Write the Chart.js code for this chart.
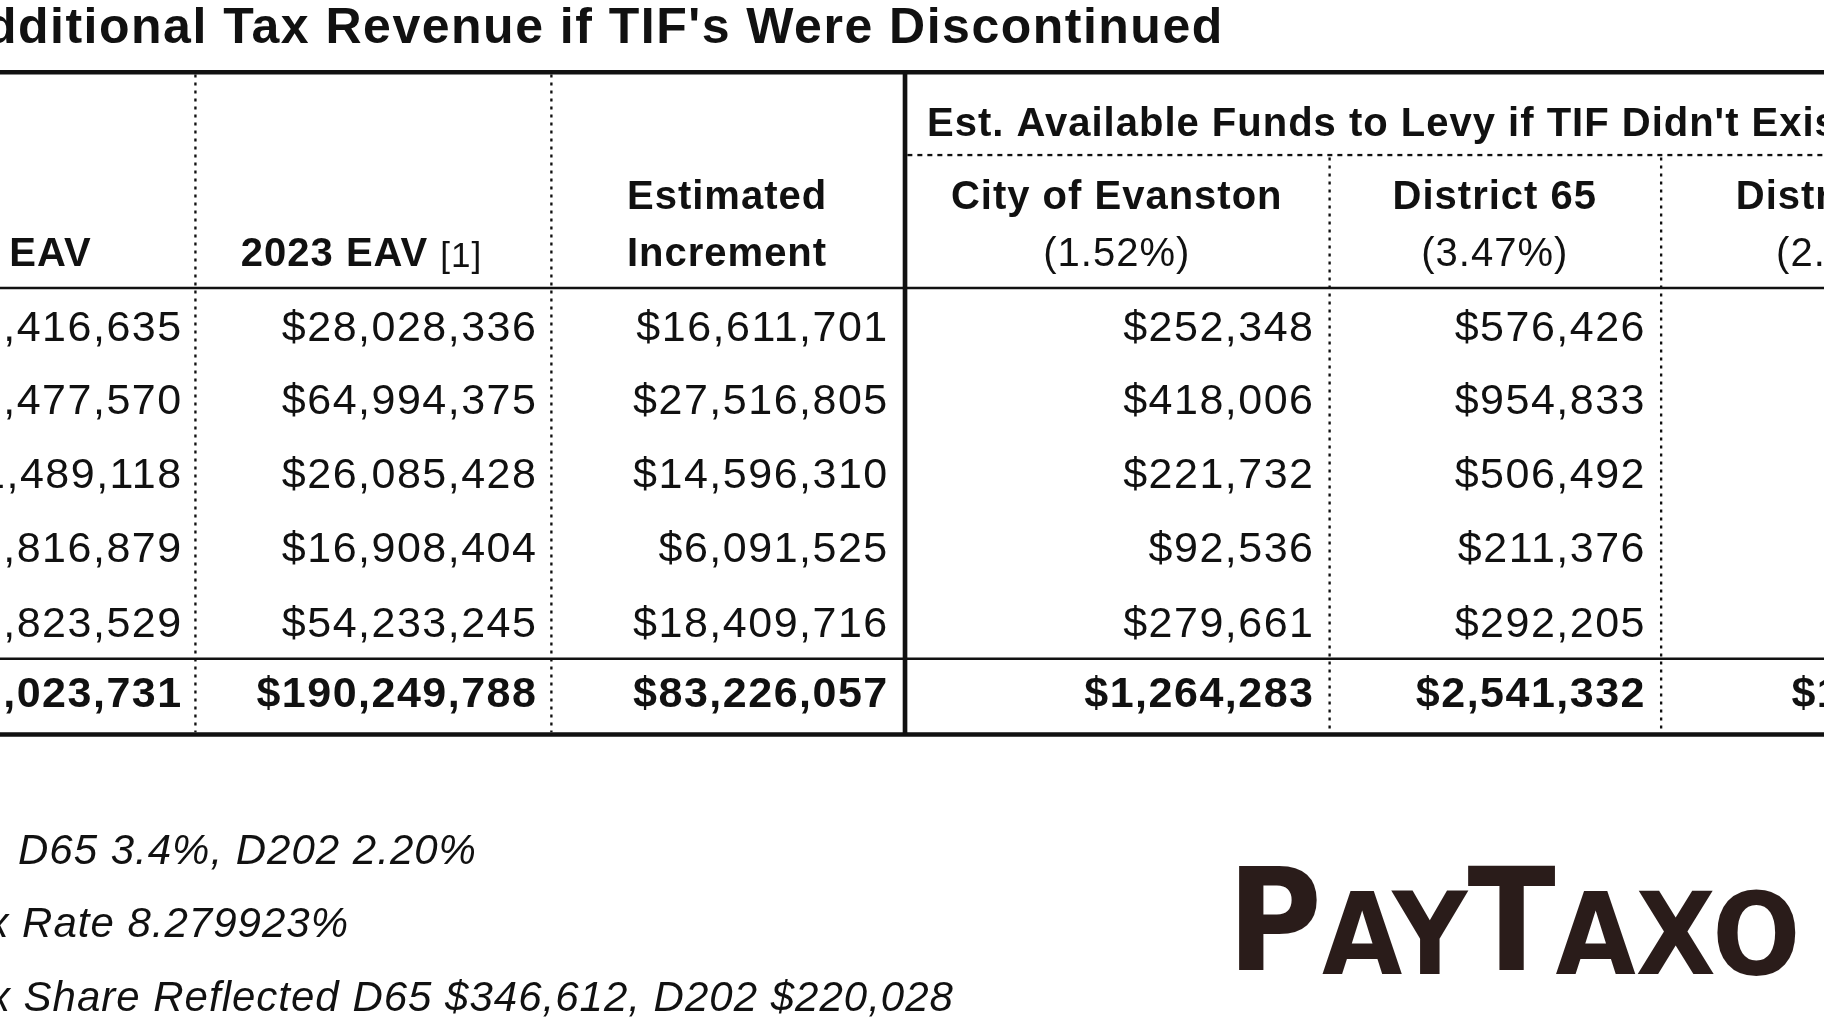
<!DOCTYPE html>
<html><head><meta charset="utf-8">
<script src="https://cdn.jsdelivr.net/npm/chart.js@4/dist/chart.umd.min.js"></script>
<style>html,body{margin:0;padding:0;background:#fff;overflow:hidden}</style>
</head><body>
<canvas id="c" width="1824" height="1026"></canvas>
<script>
const title = "Additional Tax Revenue if TIF's Were Discontinued";
const groupHeader = "Est. Available Funds to Levy if TIF Didn't Exist";
const baseEAV = ["$11,416,635","$37,477,570","$11,489,118","$10,816,879","$35,823,529"];
const eav2023 = ["$28,028,336","$64,994,375","$26,085,428","$16,908,404","$54,233,245"];
const increment = ["$16,611,701","$27,516,805","$14,596,310","$6,091,525","$18,409,716"];
const evanston = ["$252,348","$418,006","$221,732","$92,536","$279,661"];
const district65 = ["$576,426","$954,833","$506,492","$211,376","$292,205"];
const totals = ["$107,023,731","$190,249,788","$83,226,057","$1,264,283","$2,541,332","$1"];
const notes = ["City 1.52%, D65 3.4%, D202 2.20%","Total Tax Rate 8.279923%","Property Tax Share Reflected D65 $346,612, D202 $220,028"];

const rowY = [282,345,408,472,536];
const totalY = 596;
const colRight = [157,462,764,1130,1415,1700];

const plugin = {id:'table', afterDraw(ch){
  const c = ch.ctx, xs = ch.scales.x, ys = ch.scales.y;
  const X = v=>xs.getPixelForValue(v), Y = v=>ys.getPixelForValue(v);
  const k = 1824/1568;
  const F = (s,w,st)=>`${st||''} ${w||''} ${Math.round(s*k)}px "Liberation Sans", Arial, sans-serif`;
  c.save(); c.fillStyle='#111'; c.strokeStyle='#111'; c.textBaseline='middle';
  c.letterSpacing = '1.5px';
  c.font=F(43,'bold'); c.textAlign='right'; c.fillText(title, X(1052), Y(25));
  const hline=(y,x0,x1,w,dash)=>{c.beginPath();c.lineWidth=w*k;c.setLineDash(dash||[]);c.moveTo(X(x0),Y(y));c.lineTo(X(x1),Y(y));c.stroke();};
  const vline=(x,y0,y1,w,dash)=>{c.beginPath();c.lineWidth=w*k;c.setLineDash(dash||[]);c.moveTo(X(x),Y(y0));c.lineTo(X(x),Y(y1));c.stroke();};
  hline(62,0,1568,4); hline(247,0,1568,2); hline(565,0,1568,2); hline(630,0,1568,4);
  hline(133,780,1568,2,[5,5]);
  [168,474].forEach(x=>vline(x,64,628,2,[3,5]));
  vline(778,62,630,4);
  vline(1143,135,628,2,[3,5]); vline(1428,135,628,2,[3,5]);
  c.setLineDash([]);
  c.letterSpacing = '1px';
  c.font=F(34,'bold'); c.textAlign='left'; c.fillText(groupHeader, X(797), Y(107));
  c.fillText("EAV", X(8), Y(219));
  c.fillText("2023 EAV", X(207), Y(219));
  const w = c.measureText("2023 EAV ").width;
  c.font=F(30,'normal'); c.fillText("[1]", X(207)+w, Y(221));
  c.textAlign='center'; c.font=F(34,'bold');
  c.fillText("Estimated", X(625), Y(170)); c.fillText("Increment", X(625), Y(219));
  c.fillText("City of Evanston", X(960), Y(170)); c.fillText("District 65", X(1285), Y(170)); c.fillText("District 202", X(1590), Y(170));
  c.font=F(34,'normal');
  c.fillText("(1.52%)", X(960), Y(219)); c.fillText("(3.47%)", X(1285), Y(219)); c.fillText("(2.20%)", X(1590), Y(219));
  c.letterSpacing = '1.5px';
  c.textAlign='right'; c.font=F(37,'normal');
  [baseEAV,eav2023,increment,evanston,district65].forEach((arr,ci)=>arr.forEach((v,ri)=>c.fillText(v, X(colRight[ci]), Y(rowY[ri]))));
  c.font=F(37,'bold');
  totals.forEach((v,ci)=>{ if(ci<5) c.fillText(v, X(colRight[ci]), Y(totalY)); else {c.textAlign='left'; c.fillText(v, X(1540), Y(totalY));}});
  c.letterSpacing = '1px';
  c.textAlign='right'; c.font=F(36,'normal','italic');
  const noteEnd=[410,300,820];
  notes.forEach((n,i)=>c.fillText(n, X(noteEnd[i]), Y(731+63*i)));
  c.letterSpacing = '0px';
  c.fillStyle='#2a1c1a'; c.textAlign='left';
  const big=`900 ${Math.round(122*k)}px "DejaVu Sans", sans-serif`, sm=`900 ${Math.round(98*k)}px "DejaVu Sans", sans-serif`;
  c.save(); c.translate(X(1055),Y(800)); c.scale(0.91,1);
  c.font=big; c.fillText("P",0,0); let off=c.measureText("P").width;
  c.font=sm; c.fillText("AY",off,10*k); off+=c.measureText("AY").width;
  c.font=big; c.fillText("T",off,0); off+=c.measureText("T").width;
  c.font=sm; c.fillText("AXO",off,10*k);
  c.restore();
  c.restore();
}};

new Chart(document.getElementById('c'), {
  type:'scatter',
  data:{datasets:[{data:rowY.map(y=>({x:colRight[0],y})), pointRadius:0}]},
  options:{responsive:false, animation:false, events:[],
    layout:{padding:0},
    plugins:{legend:{display:false}, tooltip:{enabled:false}},
    scales:{x:{type:'linear',min:0,max:1568,display:false},
            y:{type:'linear',min:0,max:880,reverse:true,display:false}}},
  plugins:[plugin]
});
</script>
</body></html>
